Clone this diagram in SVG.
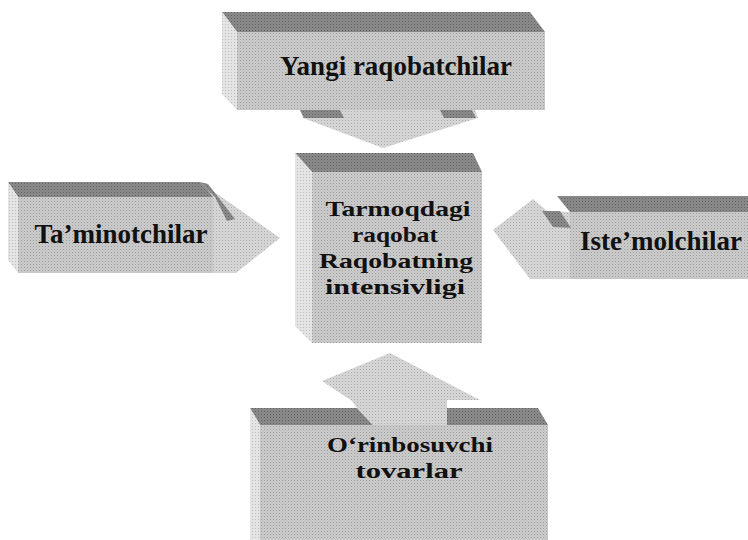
<svg xmlns="http://www.w3.org/2000/svg" width="748" height="540" viewBox="0 0 748 540">
<defs>
<pattern id="pFront" width="3" height="3" patternUnits="userSpaceOnUse">
<rect width="3" height="3" fill="#cdcdcd"/><rect x="0" y="0" width="1" height="1" fill="#9a9a9a"/><rect x="1.5" y="1.5" width="1" height="1" fill="#b0b0b0"/>
</pattern>
<pattern id="pTop" width="3" height="3" patternUnits="userSpaceOnUse">
<rect width="3" height="3" fill="#8c8c8c"/><rect x="0" y="0" width="1" height="1" fill="#5e5e5e"/><rect x="1.5" y="1.5" width="1" height="1" fill="#707070"/>
</pattern>
<pattern id="pSide" width="3" height="3" patternUnits="userSpaceOnUse">
<rect width="3" height="3" fill="#e4e4e4"/><rect x="0" y="0" width="1" height="1" fill="#bdbdbd"/>
</pattern>
<pattern id="pHead" width="3" height="3" patternUnits="userSpaceOnUse">
<rect width="3" height="3" fill="#d8d8d8"/><rect x="0" y="0" width="1" height="1" fill="#a8a8a8"/><rect x="1.5" y="1.5" width="1" height="1" fill="#c0c0c0"/>
</pattern>
</defs>
<style>
.front{fill:url(#pFront)}
.top{fill:url(#pTop)}
.side{fill:url(#pSide)}
.head{fill:url(#pHead)}
.lbl{font-family:"Liberation Serif","Times New Roman",serif;font-weight:bold;font-size:27px;fill:#111;text-anchor:middle}
.mid{font-size:22px}
</style>
<rect width="748" height="540" fill="#ffffff"/>

<g id="yangi-raqobatchilar">
<polygon class="top" points="222,12 530,12 545,32 237,32"/>
<polygon class="side" points="222,12 237,32 237,110 222,94"/>
<rect class="front" x="237" y="32" width="308" height="78"/>
<text class="lbl" x="396" y="75">Yangi raqobatchilar</text>
</g>

<g id="tarmoqdagi-raqobat">
<polygon class="top" points="295,153 473,153 482,172 312,172"/>
<polygon class="side" points="295,153 312,172 312,343 295,326"/>
<rect class="front" x="312" y="172" width="170" height="171"/>
<text class="lbl mid" x="398" y="216" textLength="145" lengthAdjust="spacingAndGlyphs">Tarmoqdagi</text>
<text class="lbl mid" x="395" y="242" textLength="86" lengthAdjust="spacingAndGlyphs">raqobat</text>
<text class="lbl mid" x="396" y="268" textLength="154" lengthAdjust="spacingAndGlyphs">Raqobatning</text>
<text class="lbl mid" x="395" y="294" textLength="140" lengthAdjust="spacingAndGlyphs">intensivligi</text>
</g>

<g id="taminotchilar">
<polygon class="top" points="8,182 200,182 215,197 18,197"/>
<polygon class="side" points="8,182 18,197 18,273 8,260"/>
<rect class="front" x="18" y="197" width="195" height="76"/>
</g>

<g id="istemolchilar">
<polygon class="top" points="557,196 748,196 748,212 570,212"/>
<rect class="front" x="570" y="212" width="178" height="67"/>
</g>

<g id="orinbosuvchi-tovarlar">
<polygon class="top" points="250,408 357,408 373,425 260,425"/>
<polygon class="top" points="447,408 538,408 548,425 447,425"/>
<polygon class="side" points="250,408 260,425 260,540 250,540"/>
<rect class="front" x="260" y="425" width="288" height="115"/>
</g>

<g id="connectors">
<polygon class="head" points="300,110 475,110 478,118 383,148 303,118"/>
<polygon class="top" points="300,110 340,110 344,118 304,118"/>
<polygon class="top" points="440,110 472,110 476,118 444,118"/>
<polygon class="head" points="203,184 280,238 236,273 213,273 213,197"/>
<polygon class="top" points="200,182 208,184 235,219 227,221 215,197"/>
<polygon class="head" points="533,199 547,211 570,212 570,279 530,279 493,230"/>
<polygon class="top" points="542,211 560,211 571,228 553,227"/>
<polygon class="head" points="390,353 480,400 447,400 447,425 373,425 357,408 352,401 322,381"/>
</g>

<g id="labels">
<text class="lbl" x="121" y="243">Ta’minotchilar</text>
<text class="lbl" x="661" y="250">Iste’molchilar</text>
<text class="lbl mid" x="410" y="452" textLength="166" lengthAdjust="spacingAndGlyphs">O‘rinbosuvchi</text>
<text class="lbl mid" x="409" y="478" textLength="107" lengthAdjust="spacingAndGlyphs">tovarlar</text>
</g>
</svg>
